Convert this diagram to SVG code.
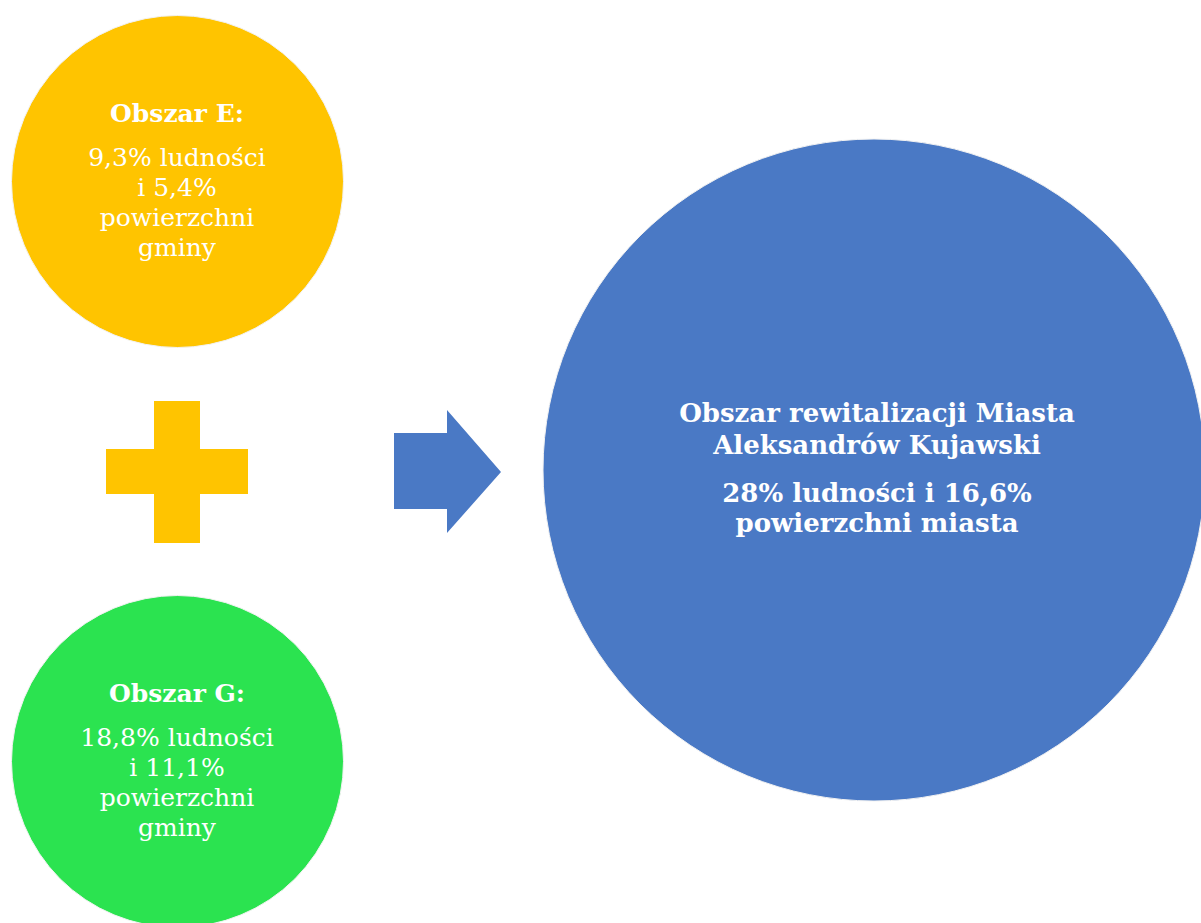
<svg xmlns="http://www.w3.org/2000/svg" width="1201" height="923" viewBox="0 0 1201 923">
<style>
.t{font-family:"DejaVu Serif","Liberation Serif",serif;fill:#fff;text-anchor:middle}
.b{font-weight:bold}
.s{font-size:25px}
.L{font-size:26px}
</style>
<rect width="1201" height="923" fill="#fff"/>
<g id="area-e">
<circle cx="177.5" cy="181.5" r="166" fill="#FFC400" stroke="#f2f2f2" stroke-width="1"/>
<text class="t b s" x="177" y="122">Obszar E:</text>
<text class="t s" x="177" y="166">9,3% ludności</text>
<text class="t s" x="177" y="196">i 5,4%</text>
<text class="t s" x="177" y="226">powierzchni</text>
<text class="t s" x="177" y="256">gminy</text>
</g>
<g id="plus">
<path d="M154 401H200V449H248V494H200V543H154V494H106V449H154Z" fill="#FFC400"/>
</g>
<g id="area-g">
<circle cx="177.5" cy="761.5" r="166" fill="#2BE350" stroke="#f2f2f2" stroke-width="1"/>
<text class="t b s" x="177" y="702">Obszar G:</text>
<text class="t s" x="177" y="746">18,8% ludności</text>
<text class="t s" x="177" y="776">i 11,1%</text>
<text class="t s" x="177" y="806">powierzchni</text>
<text class="t s" x="177" y="836">gminy</text>
</g>
<g id="connectors">
<path d="M394 433H447V410L501 472L447 533V509H394Z" fill="#4A79C5"/>
</g>
<g id="result">
<circle cx="874" cy="470" r="331" fill="#4A79C5" stroke="#f2f2f2" stroke-width="1"/>
<text class="t b L" x="877" y="422">Obszar rewitalizacji Miasta</text>
<text class="t b L" x="877" y="454">Aleksandrów Kujawski</text>
<text class="t b L" x="877" y="502">28% ludności i 16,6%</text>
<text class="t b L" x="877" y="532">powierzchni miasta</text>
</g>
</svg>
